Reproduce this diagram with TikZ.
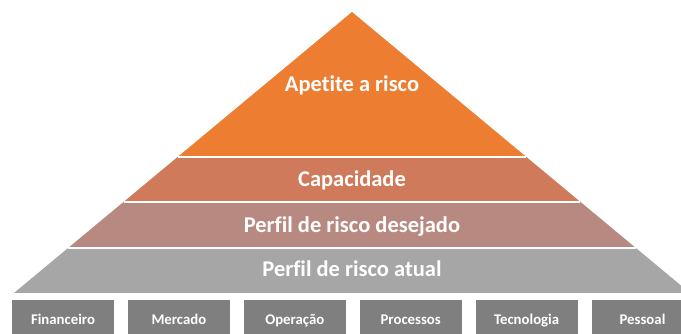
\documentclass[tikz,border=0pt]{standalone}
\usepackage{fontspec}
\setsansfont{Carlito}[Ligatures=NoCommon]
\usepackage{tikz}
\usetikzlibrary{calc,positioning}
\definecolor{appetiteorange}{RGB}{237,125,49}
\definecolor{capacityred}{RGB}{208,122,92}
\definecolor{desiredrose}{RGB}{184,137,128}
\definecolor{actualgrey}{RGB}{166,166,166}
\definecolor{boxgrey}{RGB}{127,127,127}
\tikzset{
  layertext/.style={text=white,font=\sffamily\bfseries\fontsize{22.5}{24}\selectfont,
    inner sep=0pt,anchor=base},
  gap/.style={draw=white,line width=1.6pt},
  riskbox/.style={fill=boxgrey,text=white,minimum width=102pt,minimum height=42pt,
    inner sep=0pt,text height=10pt,text depth=3pt,
    font=\sffamily\bfseries\fontsize{14.8}{16}\selectfont}
}

\begin{document}
\begin{tikzpicture}[x=1pt,y=1pt]
  \useasboundingbox[fill=white] (0,0) rectangle (681,334);
  \coordinate (top) at (352,322);
  \coordinate (bl) at (14,41);
  \coordinate (br) at (690,41);
  \foreach \n/\t in {a/0.516,b/0.676,c/0.840}{
    \coordinate (l\n) at ($(top)!\t!(bl)$);
    \coordinate (r\n) at ($(top)!\t!(br)$);
  }
  % pyramid layers
  \fill[appetiteorange] (top) -- (la) -- (ra) -- cycle;
  \fill[capacityred] (la) -- (lb) -- (rb) -- (ra) -- cycle;
  \fill[desiredrose] (lb) -- (lc) -- (rc) -- (rb) -- cycle;
  \fill[actualgrey] (lc) -- (bl) -- (br) -- (rc) -- cycle;
  \draw[gap] (la) -- (ra);
  \draw[gap] (lb) -- (rb);
  \draw[gap] (lc) -- (rc);
  \node[layertext] (appetite) at (352,242) {Apetite a risco};
  \node[layertext] (capacity) at (352,147) {Capacidade};
  \node[layertext] (desired) at (352,101) {Perfil de risco desejado};
  \node[layertext] (actual) at (352,57) {Perfil de risco atual};
  % risk categories
  \node[riskbox] (fin) at (63,13) {Financeiro};
  \node[riskbox,right=13.5pt of fin] (mkt) {Mercado};
  \node[riskbox,right=13.5pt of mkt] (ops) {Operação};
  \node[riskbox,right=13.5pt of ops] (proc) {Processos};
  \node[riskbox,right=13.5pt of proc] (tech) {Tecnologia};
  \node[riskbox,right=13.5pt of tech] (people) {Pessoal};
\end{tikzpicture}
\end{document}
